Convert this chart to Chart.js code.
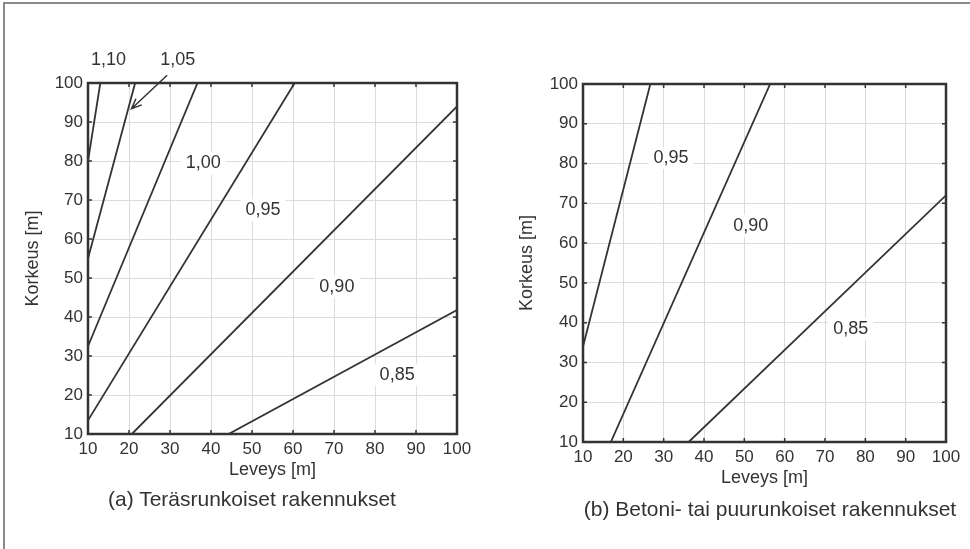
<!DOCTYPE html>
<html>
<head>
<meta charset="utf-8">
<script src="https://cdn.jsdelivr.net/npm/chart.js@4"></script>
<style>
body { margin: 0; background: #fff; width: 970px; height: 549px; overflow: hidden; position: relative; font-family: "Liberation Sans", Arial, sans-serif; }
#kehys { position: absolute; left: 3px; top: 2px; width: 980px; height: 560px; border-left: 2px solid #8a8a8a; border-top: 2px solid #8a8a8a; }
.kuva { position: absolute; top: 0; width: 480px; height: 549px; }
.kuvateksti { position: absolute; font-size: 21px; color: #333; white-space: nowrap; transform: translateX(-50%); }
</style>
</head>
<body>
<div id="kehys"></div>
<div class="kuva" style="left:0px"><canvas id="kaavio-a" width="480" height="549"></canvas></div>
<div class="kuva" style="left:490px"><canvas id="kaavio-b" width="480" height="549"></canvas></div>
<div class="kuvateksti" style="left:252px; top:487px">(a) Teräsrunkoiset rakennukset</div>
<div class="kuvateksti" style="left:770px; top:497px">(b) Betoni- tai puurunkoiset rakennukset</div>
<script>
// Akselien jaotus (molemmat akselit 10...100 m)
const tikit = [10, 20, 30, 40, 50, 60, 70, 80, 90, 100];

// (a) Teräsrunkoiset rakennukset: käyrien päätepisteet
const aKertoimet = ['1,10', '1,05', '1,00', '0,95', '0,90', '0,85'];
const aAlkuX = [10, 10, 10, 10, 20.7, 44.3];
const aAlkuY = [80, 55, 32.5, 13.5, 10, 10];
const aLoppuX = [13, 21.5, 36.7, 60.4, 100, 100];
const aLoppuY = [100, 100, 100, 100, 94, 41.8];
const aTekstiX = [15, 31.9, 38.1, 52.7, 70.7, 85.4];
const aTekstiY = [106, 106, 79.4, 67.4, 47.8, 25.2];
const aNuoli = [29.3, 102, 20.6, 93.4];

// (b) Betoni- tai puurunkoiset rakennukset
const bKertoimet = ['0,95', '0,90', '0,85'];
const bAlkuX = [10, 16.9, 36.2];
const bAlkuY = [34, 10, 10];
const bLoppuX = [26.7, 56.4, 100];
const bLoppuY = [100, 100, 72];
const bTekstiX = [31.8, 51.6, 76.4];
const bTekstiY = [81.4, 64.4, 38.4];

const tekstinVari = '#333';
const fontti = '"Liberation Sans", Arial, sans-serif';

// Kehys ja sisäänpäin osoittavat jakoviivat
const kehysPlugin = {
    id: 'kehys',
    afterDatasetsDraw(chart) {
        const { ctx, chartArea: a, scales: { x, y } } = chart;
        ctx.save();
        ctx.strokeStyle = '#333';
        ctx.lineWidth = 1.5;
        tikit.forEach(function (v) {
            const px = x.getPixelForValue(v);
            const py = y.getPixelForValue(v);
            ctx.beginPath();
            ctx.moveTo(px, a.bottom); ctx.lineTo(px, a.bottom - 4);
            ctx.moveTo(px, a.top); ctx.lineTo(px, a.top + 4);
            ctx.moveTo(a.left, py); ctx.lineTo(a.left + 4, py);
            ctx.moveTo(a.right, py); ctx.lineTo(a.right - 4, py);
            ctx.stroke();
        });
        ctx.lineWidth = 2.5;
        ctx.strokeRect(a.left, a.top, a.right - a.left, a.bottom - a.top);
        ctx.restore();
    }
};

// Käyrien tunnukset ja nuoli
const tunnusPlugin = {
    id: 'tunnukset',
    afterDraw(chart, args, opts) {
        const { ctx, scales: { x, y } } = chart;
        ctx.save();
        ctx.font = '18px ' + fontti;
        ctx.textAlign = 'center';
        ctx.textBaseline = 'middle';
        opts.tekstit.forEach(function (t, i) {
            const px = x.getPixelForValue(opts.tx[i]);
            const py = y.getPixelForValue(opts.ty[i]);
            const w = ctx.measureText(t).width;
            ctx.fillStyle = '#fff';
            ctx.fillRect(px - w / 2 - 5, py - 11, w + 10, 22);
            ctx.fillStyle = tekstinVari;
            ctx.fillText(t, px, py);
        });
        if (opts.nuoli) {
            const x1 = x.getPixelForValue(opts.nuoli[0]);
            const y1 = y.getPixelForValue(opts.nuoli[1]);
            const x2 = x.getPixelForValue(opts.nuoli[2]);
            const y2 = y.getPixelForValue(opts.nuoli[3]);
            const kulma = Math.atan2(y2 - y1, x2 - x1);
            ctx.strokeStyle = '#333';
            ctx.lineWidth = 1.5;
            ctx.beginPath();
            ctx.moveTo(x1, y1);
            ctx.lineTo(x2, y2);
            ctx.moveTo(x2 - 11 * Math.cos(kulma - 0.4), y2 - 11 * Math.sin(kulma - 0.4));
            ctx.lineTo(x2, y2);
            ctx.lineTo(x2 - 11 * Math.cos(kulma + 0.4), y2 - 11 * Math.sin(kulma + 0.4));
            ctx.stroke();
        }
        ctx.restore();
    }
};

function teeDatasetit(alkuX, alkuY, loppuX, loppuY, kertoimet) {
    return kertoimet.map(function (k, i) {
        return {
            label: k,
            data: [{ x: alkuX[i], y: alkuY[i] }, { x: loppuX[i], y: loppuY[i] }],
            showLine: true,
            borderColor: '#333',
            borderWidth: 1.8,
            pointRadius: 0
        };
    });
}

function akseli(otsikko, otsikkoPadding, sovitus) {
    return {
        type: 'linear',
        min: 10,
        max: 100,
        afterFit: sovitus,
        afterBuildTicks: function (s) {
            s.ticks = tikit.map(function (v) { return { value: v }; });
        },
        ticks: {
            color: tekstinVari,
            padding: 5,
            maxRotation: 0,
            autoSkip: false,
            font: { family: fontti, size: 17 }
        },
        grid: { color: '#dcdcdc', drawTicks: false },
        border: { display: false },
        title: {
            display: true,
            text: otsikko,
            color: tekstinVari,
            font: { family: fontti, size: 18 },
            padding: otsikkoPadding
        }
    };
}

function inicializarKaavio(id, datasetit, padding, yLeveys, yOtsikkoPad, tunnukset) {
    const ctx = document.getElementById(id);
    return new Chart(ctx, {
        type: 'scatter',
        data: { datasets: datasetit },
        options: {
            responsive: false,
            animation: false,
            layout: { padding: padding },
            plugins: {
                legend: { display: false },
                tooltip: { enabled: false },
                tunnukset: tunnukset
            },
            scales: {
                x: akseli('Leveys [m]', { top: 0, bottom: 3 }, function (s) { s.height = 50; }),
                y: akseli('Korkeus [m]', { top: yOtsikkoPad, bottom: 0 }, function (s) { s.width = yLeveys; })
            }
        },
        plugins: [kehysPlugin, tunnusPlugin]
    });
}

inicializarKaavio('kaavio-a',
    teeDatasetit(aAlkuX, aAlkuY, aLoppuX, aLoppuY, aKertoimet),
    { left: 0, top: 83, right: 23, bottom: 65 }, 88, 22,
    { tekstit: aKertoimet, tx: aTekstiX, ty: aTekstiY, nuoli: aNuoli });

inicializarKaavio('kaavio-b',
    teeDatasetit(bAlkuX, bAlkuY, bLoppuX, bLoppuY, bKertoimet),
    { left: 0, top: 84, right: 24, bottom: 57 }, 93, 26,
    { tekstit: bKertoimet, tx: bTekstiX, ty: bTekstiY, nuoli: null });
</script>
</body>
</html>
